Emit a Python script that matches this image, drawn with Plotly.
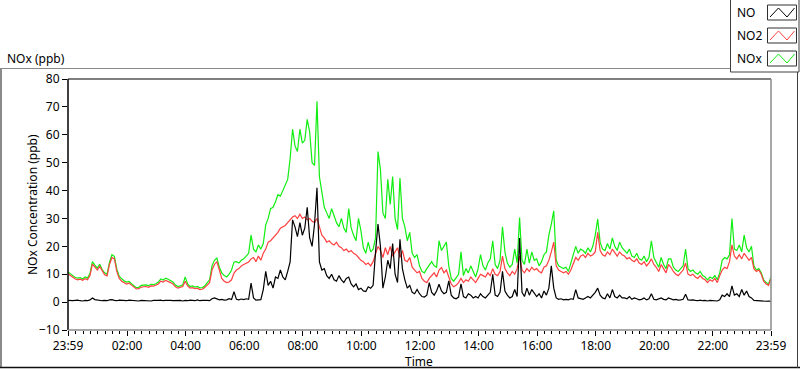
import plotly.graph_objects as go

# ---------------- data (5-minute readings, minutes since 23:59) ----------------
step_min = 5
n_points = 289

no2_ppb = [
    10.2, 9.5, 9.0, 8.3, 8.0, 8.2, 7.8, 8.4, 8.0, 9.5, 13.6, 12.5,      # 00
    11.5, 12.8, 11.0, 9.8, 9.4, 13.5, 16.0, 15.5, 11.0, 8.5, 7.5, 7.0,   # 01
    6.5, 6.8, 6.0, 5.2, 4.7, 4.8, 5.4, 5.5, 5.6, 5.3, 5.8, 5.7,          # 02
    6.0, 6.5, 7.5, 7.2, 7.8, 7.5, 7.0, 6.5, 5.5, 5.0, 5.2, 5.6,          # 03
    7.5, 5.8, 5.0, 5.2, 4.8, 5.0, 4.5, 4.6, 5.2, 6.0, 7.0, 11.5,         # 04
    13.5, 14.5, 11.0, 8.5, 7.5, 7.0, 7.2, 8.0, 10.4, 11.5, 12.0, 13.0,   # 05
    13.5, 14.0, 14.4, 15.5, 16.0, 14.5, 16.5, 15.0, 17.5, 19.0, 21.5, 22.0,  # 06
    23.0, 24.0, 25.0, 26.5, 27.0, 27.5, 28.5, 29.5, 30.5, 31.0, 30.0, 31.5,  # 07
    30.0, 30.5, 29.5, 30.0, 29.0, 28.5, 30.0, 27.0, 24.0, 23.0, 21.5, 22.0,  # 08
    21.0, 20.5, 21.5, 20.0, 19.5, 18.5, 19.0, 18.0, 18.5, 17.5, 17.0, 16.0,  # 09
    15.0, 14.5, 13.5, 14.0, 13.0, 14.5, 17.0, 20.0, 18.5, 16.0, 19.5, 17.0,  # 10
    20.0, 16.5, 18.0, 19.5, 16.0, 18.5, 15.0, 14.5, 16.0, 12.5, 11.5, 10.5,  # 11
    11.0, 8.5, 7.5, 7.0, 8.5, 9.5, 10.5, 9.0, 11.5, 12.4, 10.5, 11.5,        # 12
    9.0, 6.5, 5.5, 6.0, 7.0, 8.5, 7.0, 8.0, 7.5, 9.0, 8.0, 7.0,              # 13
    8.5, 10.0, 9.5, 9.0, 10.5, 9.5, 12.0, 10.0, 9.5, 11.0, 16.5, 12.0,       # 14
    10.5, 9.5, 11.0, 10.0, 12.0, 16.5, 11.5, 10.5, 12.0, 11.0, 12.5, 11.5,   # 15
    12.0, 11.0, 10.5, 12.5, 13.0, 15.0, 18.0, 21.5, 13.0, 11.5, 11.0, 10.5,  # 16
    11.0, 10.0, 11.5, 14.0, 16.0, 15.0, 16.5, 17.0, 16.0, 17.5, 16.5, 17.0,  # 17
    18.0, 25.0, 18.5, 17.0, 16.5, 18.0, 17.0, 19.0, 17.5, 16.5, 18.0, 17.0,  # 18
    16.5, 15.5, 16.0, 15.0, 14.5, 15.5, 14.0, 13.5, 14.5, 13.0, 14.0, 15.5,  # 19
    13.5, 12.5, 11.0, 13.5, 12.0, 10.5, 13.5, 12.5, 11.0, 10.0, 9.5, 10.5,   # 20
    11.5, 14.0, 10.0, 9.5, 10.0, 9.0, 8.5, 9.5, 8.5, 8.0, 7.0, 8.0,          # 21
    7.5, 8.5, 7.0, 9.5, 11.5, 12.5, 12.0, 14.5, 20.5, 16.5, 15.5, 17.0,      # 22
    15.5, 17.5, 16.0, 15.0, 16.0, 12.0, 11.0, 11.5, 10.0, 7.5, 6.5, 6.0,     # 23
    8.5,
]

nox_ppb = [
    10.8, 10.0, 9.5, 8.8, 8.6, 8.8, 8.3, 9.0, 8.6, 10.2, 14.5, 13.3,     # 00
    12.2, 13.6, 11.7, 10.5, 10.0, 14.3, 17.0, 16.4, 11.8, 9.2, 8.2, 7.6, # 01
    7.2, 7.4, 6.6, 5.8, 5.2, 5.3, 6.0, 6.1, 6.2, 5.9, 6.4, 6.3,          # 02
    6.6, 7.2, 8.3, 7.9, 8.6, 8.2, 7.7, 7.2, 6.1, 5.6, 5.8, 6.2,          # 03
    9.0, 6.5, 5.6, 5.8, 5.4, 5.6, 5.1, 5.2, 5.8, 6.8, 8.0, 13.0,         # 04
    15.0, 15.8, 12.5, 10.5, 9.5, 9.0, 10.0, 11.5, 14.4, 14.5, 14.0, 15.0,    # 05
    15.5, 16.5, 17.5, 24.0, 19.0, 18.0, 20.5, 19.0, 21.0, 27.7, 30.0, 33.5,  # 06
    34.0, 36.0, 38.5, 38.0, 40.0, 42.0, 44.0, 51.5, 62.0, 56.0, 54.0, 62.0,  # 07
    57.0, 58.0, 65.5, 61.0, 50.0, 49.0, 72.0, 45.0, 39.0, 34.0, 32.0, 30.0,  # 08
    33.5, 31.0, 28.5, 27.0, 30.0, 26.6, 25.0, 33.5, 26.6, 24.0, 22.0, 30.0,  # 09
    25.6, 19.5, 17.5, 21.5, 18.0, 19.0, 23.0, 54.0, 47.5, 32.0, 30.0, 44.0,  # 10
    35.0, 45.0, 30.0, 26.0, 44.5, 30.0, 27.0, 22.0, 25.0, 17.5, 16.0, 17.0,  # 11
    13.0, 11.0, 10.5, 12.0, 13.5, 14.5, 13.0, 12.5, 22.0, 18.5, 20.0, 21.5,  # 12
    13.0, 8.5, 7.5, 9.0, 10.0, 18.0, 9.5, 12.0, 10.5, 13.0, 11.0, 9.0,       # 13
    12.0, 17.0, 13.0, 11.5, 14.0, 15.5, 22.0, 13.5, 12.0, 15.0, 27.0, 18.0,  # 14
    14.0, 12.5, 13.5, 19.0, 14.0, 30.3, 15.0, 13.5, 19.0, 14.0, 18.0, 15.0,  # 15
    15.5, 13.0, 14.5, 17.0, 18.0, 24.0, 28.0, 32.7, 15.0, 13.0, 12.5, 12.0,  # 16
    12.5, 11.0, 14.0, 17.0, 20.0, 17.5, 19.0, 18.5, 17.5, 19.5, 18.0, 20.0,  # 17
    24.0, 29.8, 21.5, 19.0, 18.5, 21.0, 19.0, 23.0, 20.0, 18.5, 21.5, 19.5,  # 18
    18.5, 17.5, 19.0, 16.5, 16.0, 17.5, 15.5, 15.0, 16.5, 14.5, 16.0, 22.0,  # 19
    16.0, 14.0, 12.5, 16.0, 13.5, 12.0, 15.5, 15.5, 12.5, 11.5, 11.0, 12.0,  # 20
    13.0, 19.0, 12.0, 11.0, 11.5, 10.5, 10.0, 11.0, 9.5, 9.0, 8.0, 9.0,      # 21
    8.5, 9.5, 8.0, 10.5, 15.0, 16.0, 15.5, 17.0, 30.0, 19.0, 18.5, 20.5,     # 22
    18.0, 24.0, 19.5, 18.0, 20.0, 13.0, 11.5, 12.0, 10.5, 8.0, 7.0, 6.5,     # 23
    9.0,
]

no_ppb = [
    0.6, 0.5, 0.5, 0.6, 0.7, 0.5, 0.4, 0.6, 0.5, 0.8, 1.5, 0.9,          # 00
    0.7, 0.6, 0.5, 0.6, 0.5, 0.8, 0.9, 0.6, 0.5, 0.7, 0.6, 0.5,          # 01
    0.5, 0.7, 0.6, 0.4, 0.5, 0.4, 0.6, 0.5, 0.6, 0.5, 0.4, 0.6,          # 02
    0.5, 0.6, 0.7, 0.5, 0.6, 0.7, 0.6, 0.5, 0.6, 0.5, 0.6, 0.4,          # 03
    0.6, 0.5, 0.7, 0.6, 0.5, 0.8, 0.5, 0.6, 0.7, 0.6, 0.5, 1.2,          # 04
    1.5, 1.0, 0.8, 1.0, 0.7, 0.8, 1.2, 0.9, 3.7, 1.0, 0.8, 1.1,          # 05
    0.9, 1.2, 1.0, 6.8, 1.5, 0.7, 0.8, 0.9, 4.5, 11.0, 6.0, 7.5,         # 06
    5.0, 9.0, 8.5, 11.5, 9.0, 8.0, 11.0, 14.4, 29.5, 27.0, 23.5, 28.5,   # 07
    24.0, 26.5, 34.0, 23.0, 20.0, 28.0, 41.0, 14.4, 11.5, 12.0, 9.5, 8.5,    # 08
    10.0, 8.0, 7.5, 9.5, 8.0, 7.0, 8.5, 9.0, 6.5, 5.5, 6.5, 4.5,         # 09
    5.0, 4.0, 3.8, 5.5, 5.0, 6.0, 18.0, 28.0, 20.0, 5.0, 9.0, 15.0,      # 10
    12.0, 21.0, 10.0, 7.0, 22.5, 12.0, 8.0, 5.0, 6.0, 3.5, 3.0, 4.5,     # 11
    3.0, 2.0, 1.8, 2.5, 7.0, 3.5, 2.5, 4.0, 6.4, 4.0, 3.0, 3.5,          # 12
    7.6, 2.5, 1.5, 1.2, 1.8, 6.5, 2.0, 1.5, 3.0, 2.5, 1.5, 2.0,          # 13
    1.5, 3.0, 2.0, 1.5, 2.5, 3.5, 10.0, 2.5, 2.0, 3.5, 11.0, 4.0,        # 14
    2.5, 1.5, 2.0, 4.5, 2.0, 23.0, 3.5, 2.0, 5.0, 2.5, 4.5, 3.0,         # 15
    2.0, 3.0, 1.5, 4.0, 2.5, 5.0, 13.0, 5.0, 1.5, 1.0, 1.2, 0.8,         # 16
    1.0, 0.8, 1.2, 1.0, 4.5, 1.5, 1.2, 1.0, 1.5, 2.0, 1.5, 2.5,          # 17
    3.5, 5.0, 2.5, 1.5, 1.2, 3.0, 1.5, 4.5, 2.0, 1.5, 2.5, 1.5,          # 18
    1.5, 1.2, 2.0, 1.0, 1.5, 1.2, 0.8, 1.0, 1.5, 0.8, 1.2, 3.0,          # 19
    1.0, 0.8, 1.2, 1.5, 1.0, 0.8, 1.5, 1.2, 0.8, 1.0, 0.7, 0.8,          # 20
    1.0, 2.8, 0.8, 0.7, 0.8, 0.6, 0.5, 0.7, 0.5, 0.6, 0.4, 0.6,          # 21
    0.5, 0.6, 0.4, 0.8, 2.5, 2.0, 3.0, 2.0, 5.8, 2.5, 3.0, 2.0,          # 22
    4.5, 2.5, 4.0, 2.0, 1.5, 0.6, 0.5, 0.4, 0.5, 0.4, 0.3, 0.4,          # 23
    0.3,
]

x_tick_labels = ["23:59", "02:00", "04:00", "06:00", "08:00", "10:00", "12:00",
                 "14:00", "16:00", "18:00", "20:00", "22:00", "23:59"]
y_tick_values = [-10, 0, 10, 20, 30, 40, 50, 60, 70, 80]

series_names = ["NO", "NO2", "NOx"]
series_colors = ["#000000", "#ff4040", "#11ee11"]

# ---------------- derived ----------------
minutes = [i * step_min for i in range(n_points)]
start_min = 23 * 60 + 59


def label_to_minutes(lbl, idx):
    h, m = map(int, lbl.split(":"))
    v = (h * 60 + m - start_min) % 1440
    if idx == len(x_tick_labels) - 1 and v == 0:
        v = 1440
    return v


x_tick_vals = [label_to_minutes(l, i) for i, l in enumerate(x_tick_labels)]

FONT = "Noto Sans"

fig = go.Figure()
# draw NOx first (bottom), then NO2, then NO on top
for name, vals, col in [(series_names[2], nox_ppb, series_colors[2]),
                        (series_names[1], no2_ppb, series_colors[1]),
                        (series_names[0], no_ppb, series_colors[0])]:
    fig.add_trace(go.Scatter(x=minutes, y=vals, mode="lines", name=name,
                             line=dict(color=col, width=1.2), showlegend=False,
                             hoverinfo="skip"))

# layout geometry (pixels)
W, H = 800, 369
L, R, T, B = 68, 771, 79, 330
PW, PH = R - L, B - T


def px(x):
    return (x - L) / PW


def py(y):
    return (B - y) / PH


shapes = []
# outer panel
shapes.append(dict(type="line", xref="paper", yref="paper", x0=px(0), x1=px(731), y0=py(68.5), y1=py(68.5),
                   line=dict(color="#8a8a8a", width=1)))
shapes.append(dict(type="line", xref="paper", yref="paper", x0=px(1), x1=px(1), y0=py(68), y1=py(368),
                   line=dict(color="#8a8a8a", width=2)))
shapes.append(dict(type="line", xref="paper", yref="paper", x0=px(0), x1=px(800), y0=py(367.5), y1=py(367.5),
                   line=dict(color="#101010", width=1.5)))
shapes.append(dict(type="line", xref="paper", yref="paper", x0=px(797.5), x1=px(797.5), y0=py(68), y1=py(368),
                   line=dict(color="#404040", width=1)))
# plot frame
shapes.append(dict(type="line", xref="paper", yref="paper", x0=0, x1=1, y0=1, y1=1,
                   line=dict(color="#000000", width=1.2)))
shapes.append(dict(type="line", xref="paper", yref="paper", x0=0, x1=0, y0=0, y1=1,
                   line=dict(color="#000000", width=1.5)))
shapes.append(dict(type="line", xref="paper", yref="paper", x0=1, x1=1, y0=0, y1=1,
                   line=dict(color="#8a8a8a", width=1.5)))
shapes.append(dict(type="line", xref="paper", yref="paper", x0=0, x1=1, y0=0, y1=0,
                   line=dict(color="#8a8a8a", width=1.5)))
# legend box
shapes.append(dict(type="rect", xref="paper", yref="paper", x0=px(730.5), x1=px(799), y0=py(72), y1=py(-1),
                   fillcolor="white", line=dict(color="#404040", width=1)))

annotations = []
box_tops = [5, 28, 51]
for name, col, top in zip(series_names, series_colors, box_tops):
    bot = top + 15
    shapes.append(dict(type="rect", xref="paper", yref="paper", x0=px(767.5), x1=px(796.5),
                       y0=py(bot), y1=py(top), fillcolor="white", line=dict(color="#303030", width=1)))
    lo, hi = bot - 3, top + 3
    pts = [(770, lo), (778.5, hi), (787, lo), (794.5, hi)]
    path = "M " + " L ".join(f"{px(a):.5f},{py(b):.5f}" for a, b in pts)
    shapes.append(dict(type="path", xref="paper", yref="paper", path=path,
                       line=dict(color=col, width=1)))
    annotations.append(dict(xref="paper", yref="paper", x=px(735), y=py(top + 7.5), text=name,
                            showarrow=False, xanchor="left", yanchor="middle",
                            font=dict(family=FONT, size=12, color="black")))

annotations.append(dict(xref="paper", yref="paper", x=px(5), y=py(58), text="NOx (ppb)",
                        showarrow=False, xanchor="left", yanchor="middle",
                        font=dict(family=FONT, size=12, color="black")))
annotations.append(dict(xref="paper", yref="paper", x=px(32), y=py(205), text="NOx Concentration (ppb)",
                        showarrow=False, xanchor="center", yanchor="middle", textangle=-90,
                        font=dict(family=FONT, size=12, color="black")))
annotations.append(dict(xref="paper", yref="paper", x=px(419), y=py(361), text="Time",
                        showarrow=False, xanchor="center", yanchor="middle",
                        font=dict(family=FONT, size=12, color="black")))

fig.update_layout(
    width=W, height=H,
    margin=dict(l=L, r=W - R, t=T, b=H - B, pad=0),
    paper_bgcolor="white", plot_bgcolor="white",
    font=dict(family=FONT, size=12, color="black"),
    showlegend=False,
    hovermode=False,
    shapes=shapes,
    annotations=annotations,
)
fig.update_xaxes(
    range=[0, 1440], showgrid=False, zeroline=False, showline=False,
    tickmode="array", tickvals=x_tick_vals, ticktext=x_tick_labels,
    ticks="outside", ticklen=5, tickwidth=1, tickcolor="black",
    minor=dict(ticks="outside", ticklen=3, tickwidth=1, tickcolor="black", dtick=15, tick0=1, showgrid=False),
    tickfont=dict(family=FONT, size=12, color="black"),
)
fig.update_yaxes(
    range=[-10, 80], showgrid=False, zeroline=False, showline=False,
    tickmode="array", tickvals=y_tick_values,
    ticks="outside", ticklen=5, tickwidth=1, tickcolor="black",
    tickfont=dict(family=FONT, size=12, color="black"),
)

assert len(no2_ppb) == n_points and len(nox_ppb) == n_points and len(no_ppb) == n_points

fig.write_html(
    "out.html",
    config={"displayModeBar": False, "staticPlot": True},
    post_script="document.body.style.margin='0';document.body.style.overflow='hidden';",
)
